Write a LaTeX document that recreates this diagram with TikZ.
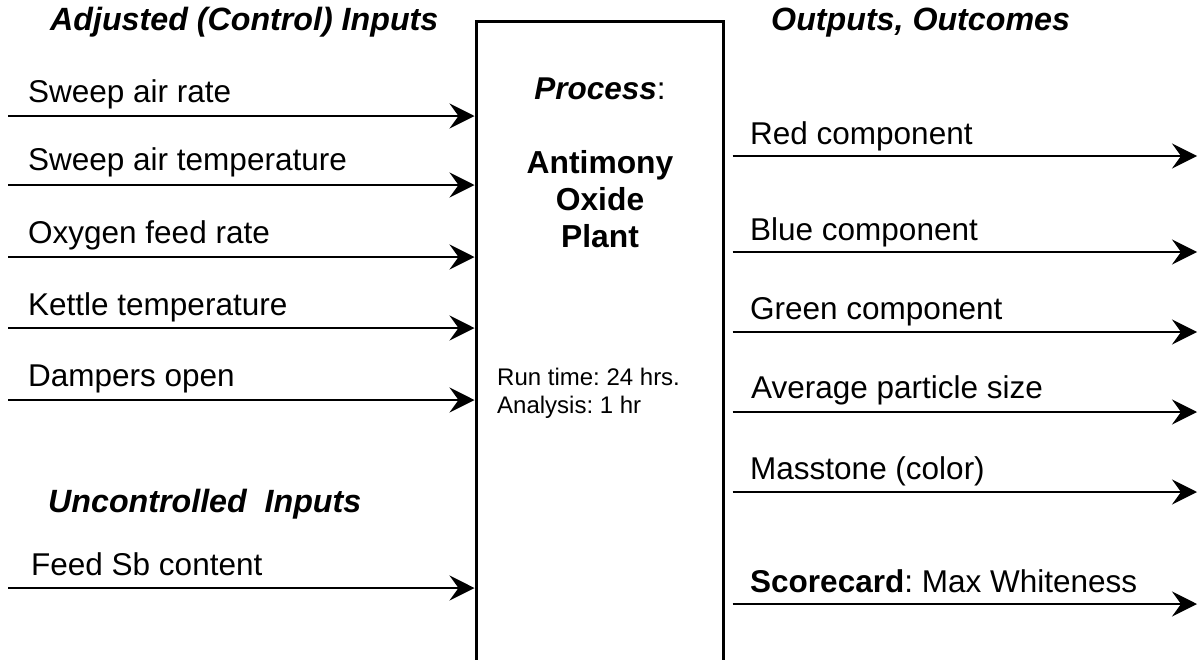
\documentclass[tikz,border=0pt]{standalone}
\usepackage{fontspec}
\setmainfont{Liberation Sans}
\usetikzlibrary{arrows.meta,positioning}
\frenchspacing

\begin{document}
\begin{tikzpicture}[x=1pt, y=-1pt,
    lbl/.style={font=\fontsize{31.5}{36}\selectfont, inner sep=0pt, anchor=base west},
    hdr/.style={font=\fontsize{32.2}{36}\selectfont\bfseries\itshape, inner sep=0pt, anchor=base west},
    flow/.style={line width=2pt, -{Stealth[length=25pt, width=25pt, inset=9pt]}}]
    \clip (0,0) rectangle (1198,659);

    % the process box (runs off the bottom)
    \node[draw, line width=3pt, minimum width=247pt, minimum height=700pt] (plant) at (599.5,371.5) {};
    \node[font=\fontsize{31.5}{36}\selectfont, inner sep=0pt, anchor=base] (proc) at (600,99) {\textbf{\textit{Process}}:};
    \node[font=\fontsize{31.8}{37}\selectfont\bfseries, align=center, inner sep=0pt, anchor=north] (plantname) at (600,150.5) {Antimony\\Oxide\\Plant};
    \node[font=\fontsize{24}{28}\selectfont, align=left, inner sep=0pt, anchor=north west] (runtime) at (497,367.5) {Run time: 24 hrs.\\Analysis: 1 hr};

    % headings
    \node[hdr] (adjusted) at (50,30) {Adjusted (Control) Inputs};
    \node[hdr] (uncontrolled) at (48,512) {Uncontrolled\ \ Inputs};
    \node[hdr] (outputs) at (771,30) {Outputs, Outcomes};

    % inputs
    \coordinate (in1) at (8,116);
    \coordinate (in2) at (8,185);
    \coordinate (in3) at (8,257);
    \coordinate (in4) at (8,328);
    \coordinate (in5) at (8,400);
    \coordinate (in6) at (8,588);
    \node[lbl] (sweeprate) at (28,102) {Sweep air rate};
    \node[lbl] (sweeptemp) at (28,170) {Sweep air temperature};
    \node[lbl] (oxygen) at (28,243) {Oxygen feed rate};
    \node[lbl] (kettle) at (28,315) {Kettle temperature};
    \node[lbl] (dampers) at (28,386) {Dampers open};
    \node[lbl] (feedsb) at (31,575) {Feed Sb content};
    \draw[flow] (in1) -- (in1 -| plant.west);
    \draw[flow] (in2) -- (in2 -| plant.west);
    \draw[flow] (in3) -- (in3 -| plant.west);
    \draw[flow] (in4) -- (in4 -| plant.west);
    \draw[flow] (in5) -- (in5 -| plant.west);
    \draw[flow] (in6) -- (in6 -| plant.west);

    % outputs
    \coordinate (rim) at ([xshift=8pt]plant.east);
    \coordinate (out1) at (1197,156);
    \coordinate (out2) at (1197,252);
    \coordinate (out3) at (1197,332);
    \coordinate (out4) at (1197,412);
    \coordinate (out5) at (1197,492);
    \coordinate (out6) at (1197,604);
    \node[lbl] (red) at (750,144) {Red component};
    \node[lbl] (blue) at (750,240) {Blue component};
    \node[lbl] (green) at (750,319) {Green component};
    \node[lbl] (particle) at (751,398) {Average particle size};
    \node[lbl] (masstone) at (750,479) {Masstone (color)};
    \node[lbl] (scorecard) at (750,592) {\textbf{Scorecard}: Max Whiteness};
    \draw[flow] (rim |- out1) -- (out1);
    \draw[flow] (rim |- out2) -- (out2);
    \draw[flow] (rim |- out3) -- (out3);
    \draw[flow] (rim |- out4) -- (out4);
    \draw[flow] (rim |- out5) -- (out5);
    \draw[flow] (rim |- out6) -- (out6);
\end{tikzpicture}
\end{document}
